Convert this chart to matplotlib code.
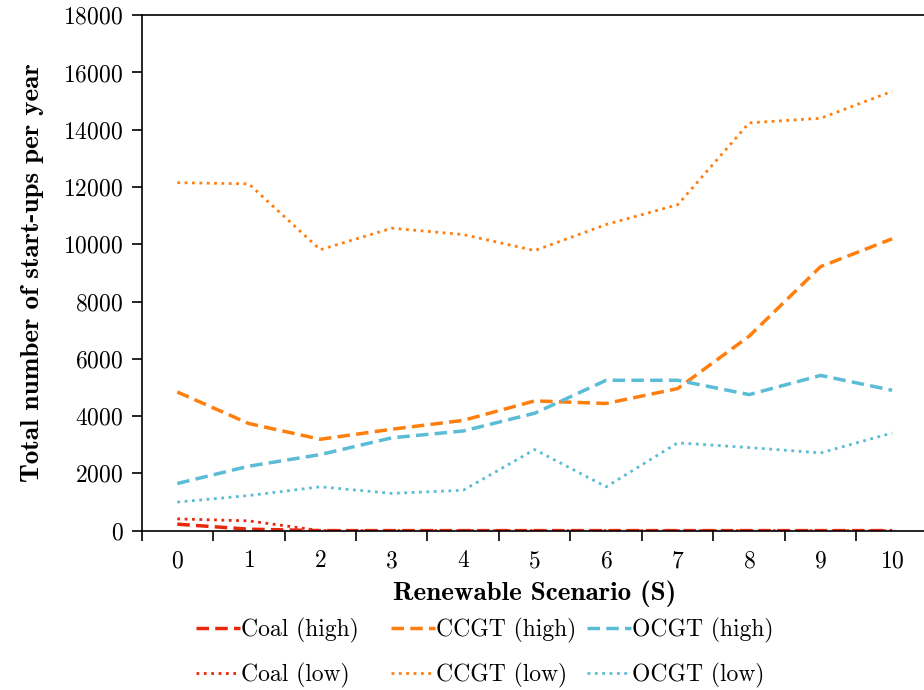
import numpy as np
import matplotlib
matplotlib.use('Agg')
import matplotlib.pyplot as plt

plt.rcParams['font.family'] = ['cmr10', 'DejaVu Serif']
plt.rcParams['axes.formatter.use_mathtext'] = True

# renewable scenarios
scenarios = [0, 1, 2, 3, 4, 5, 6, 7, 8, 9, 10]

coal_high = [225, 50, 0, 0, 0, 0, 0, 0, 0, 0, 0]
coal_low = [410, 340, 0, 0, 0, 0, 0, 0, 0, 0, 0]
ccgt_high = [4840, 3740, 3190, 3540, 3850, 4530, 4440, 4960, 6790, 9220, 10190]
ccgt_low = [12150, 12110, 9810, 10560, 10340, 9780, 10690, 11380, 14240, 14400, 15340]
ocgt_high = [1645, 2250, 2655, 3240, 3480, 4100, 5250, 5250, 4750, 5420, 4900]
ocgt_low = [995, 1225, 1530, 1300, 1410, 2830, 1530, 3065, 2900, 2715, 3410]

red = '#e8280c'
orange = '#ff7f0e'
cyan = '#5bbcd6'

fig = plt.figure(figsize=(9.24, 6.9), dpi=100)
ax = fig.add_axes([0.1532, 0.231, 0.851, 0.747])

dash = (0, (3.6, 1.8))
l1, = ax.plot(scenarios, coal_high, color=red, lw=2.5, linestyle=dash, label='Coal (high)')
l2, = ax.plot(scenarios, coal_low, color=red, lw=2.0, linestyle=':', label='Coal (low)')
l3, = ax.plot(scenarios, ccgt_high, color=orange, lw=2.5, linestyle=dash, label='CCGT (high)')
l4, = ax.plot(scenarios, ccgt_low, color=orange, lw=2.0, linestyle=':', label='CCGT (low)')
l5, = ax.plot(scenarios, ocgt_high, color=cyan, lw=2.5, linestyle=dash, label='OCGT (high)')
l6, = ax.plot(scenarios, ocgt_low, color=cyan, lw=2.0, linestyle=':', label='OCGT (low)')

ax.set_xlim(-0.5, 10.5)
ax.set_ylim(0, 18000)
ax.set_yticks(np.arange(0, 18001, 2000))
ax.set_xticks(scenarios)
ax.set_xticks(np.arange(-0.5, 10.6, 1), minor=True)
ax.tick_params(axis='x', which='major', length=0, pad=14, labelsize=17)
ax.tick_params(axis='x', which='minor', length=7, width=1.2, direction='out')
ax.tick_params(axis='y', length=7, width=1.2, direction='out', labelsize=17, pad=6)
for s in ax.spines.values():
    s.set_linewidth(1.2)

ax.set_xlabel('Renewable Scenario (S)', fontfamily='cmb10', fontsize=19.5, labelpad=6)
ax.set_ylabel('Total number of start-ups per year', fontfamily='cmb10', fontsize=19.5, labelpad=14)

# three single-column legends so the columns sit at fixed spacing
groups = [(l1, l2), (l3, l4), (l5, l6)]
xs = [196, 391, 587]
for (h1, h2), x in zip(groups, xs):
    leg = fig.legend([h1, h2], [h1.get_label(), h2.get_label()],
                     loc='upper left', bbox_to_anchor=(x / 924, 1 - 618 / 690),
                     frameon=False, fontsize=17, handlelength=1.85, handletextpad=0.05,
                     labelspacing=0.85, borderaxespad=0, borderpad=0)

fig.savefig('out.png', dpi=100)
